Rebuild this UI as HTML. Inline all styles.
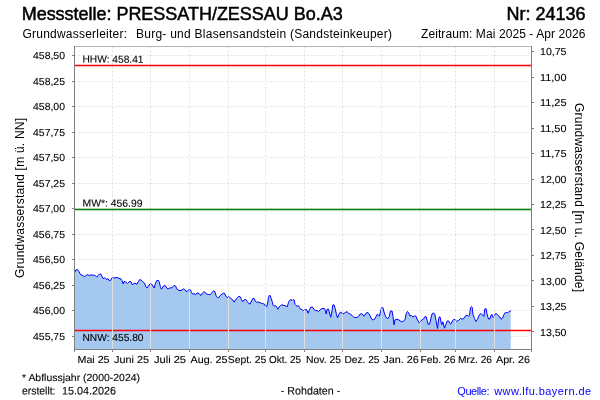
<!DOCTYPE html>
<html lang="de"><head><meta charset="utf-8"><title>Messstelle: PRESSATH/ZESSAU Bo.A3</title>
<style>html,body{margin:0;padding:0;background:#fff}svg{display:block}text{font-family:"Liberation Sans",Arial,sans-serif;fill:#000;stroke:#000;stroke-width:0}</style>
</head><body>
<svg width="600" height="400" viewBox="0 0 600 400">
<rect width="600" height="400" fill="#fff"/>
<defs><clipPath id="fc"><polygon points="75,349.5 75,271.8 75.8,270 77.5,269.5 79,271.5 80.5,274.5 82,275.2 83.5,275.8 84.8,276.8 86.5,274.8 88,274.8 89.5,275.7 91,274.7 93,275.3 94.5,275.3 95.5,275.8 96.8,277 98.2,275.5 99.5,274 101,274.2 102,276.5 103,278.5 104.5,277.8 105.8,278.5 106.8,279.8 107.8,278.5 109.2,280.5 110.5,280.5 111.7,278 113.5,277.8 115,277.8 117,277.5 119,278.3 121,279 122,280.5 123.2,284 124,281.5 125.5,281.8 127.5,283.5 129.5,281.5 131,281.8 132.5,285 134.5,283 137,284.2 138.5,281.5 139.5,279.8 141,279.8 142.5,281.5 144.5,283 145.8,286.5 147,288 148.5,286 149.8,284 151.5,284 153,286 154.2,288 155.5,283 156.8,280.5 158.5,280.5 159.5,283 160.5,287.5 161.5,289.2 162.8,287 164,285.5 165.5,285.8 166.8,288 168,289 169.5,288 172,287.8 174,285.5 175.5,286 177,289 179,290.5 181,290.5 183.5,288.8 184.8,289.5 186,291.5 187.5,291 188.8,289.8 190.2,289.5 191.5,292.5 192.5,294 194,293.5 195.5,294.8 197,293 198.5,293 200,294.8 201,295.5 202.5,293 203.8,291.8 205,292.2 206.5,294 208.5,294.5 210.5,294.5 212,292.5 213.5,290.8 214.8,291.5 216,295.5 217.5,297.5 218.5,297.8 220,295.8 222,294 223.8,293 225,294 226,296.5 227.2,297.5 229,296.5 230.5,298.2 232.5,299.5 234.2,302.2 235.5,300 237.5,297.5 239,296.2 240.2,296.8 241.5,299.5 242.7,301.8 244.5,299.5 245.8,299.5 247.2,301.5 249,303.8 250.2,304 251.5,301 252.8,298.5 254.2,298.5 255.5,301.5 256.5,302.2 258,301.8 260,302.8 262.5,303.5 264.5,304.2 265.5,306.2 266.5,306.8 267.5,304 268.5,297.5 269.2,295.5 270.2,295.5 271.2,298.5 272.2,301.5 273.2,305.5 274,306.2 275.5,305.5 276.8,307.2 277.8,309.2 279,307 280.5,305.5 282,304.8 284,305.5 286,305.8 287.2,307 288.5,302.5 289.5,300.5 291,299.5 292.2,300.5 293.2,299.5 294.2,300 295,304.5 296,305.5 297.2,306.2 298.5,305.8 299.5,307.5 300.5,309.2 302,309.5 303.5,311 304.5,309.8 306.5,309.5 308.2,313.2 309.5,309.5 310.8,307.2 312.5,307 314,309.5 315.5,310.5 317,310.5 318.5,311.5 320,310 322,308.5 324.5,308.5 325.5,310.5 326.2,314 327,309.5 328.5,309 329.5,313 330.8,317.2 331.8,312 332.8,305 334,304.8 335.2,308.5 336.5,314.5 337.5,317.8 338.8,314.5 340.2,312.2 341.5,312.5 342.8,314.2 344.5,313 347,311.5 348.5,313.5 350.5,314 352.5,316.2 354.5,317.5 357,317.5 358.8,316.2 360.2,314 361.8,313.6 364,316.2 366,313.2 368,312.5 369.8,315 371.5,319 373,320 375,318.8 376.8,314.8 378,314.5 379.5,316.2 380.5,311.5 381.5,307.8 383,307.8 384,312 385.5,316.2 387.5,318.8 389.2,316.5 390.5,311 392,310.8 393,316.5 394,324.8 395,319.8 397,319.2 399,320 401.5,321.8 403.5,321 405,319.8 406.2,313.5 407.5,311.5 408.5,312.5 410,316 411.5,315.5 413,317 414.5,315.8 416,316.2 417.5,320 419.5,323 421.2,320.5 423.5,319 425,316.5 426.2,316.8 427.2,320.5 428.2,324.5 429.5,324.2 430.8,319 432,314 433.5,312.8 434.8,314.2 436,320.5 437.5,328.5 438.5,320 439.2,316.8 440.2,317.2 441.2,323 442,324.5 442.8,321.8 443.5,324 444.5,328.2 445.8,324.5 447,321.2 448.5,320.8 450,323.5 450.8,324.2 452.5,320.8 454,319.2 455.2,320 456.5,321.2 458.5,320.5 460.5,318.5 462,319 463.5,318.8 465.5,315.8 467,315.2 468.5,316.2 469.5,315.5 470.5,307.5 471.5,306.5 472.2,307.5 473,314.5 474.5,318.5 476,321.5 477.3,319.6 479.5,314.5 481,313.5 482.5,315 483.8,316.5 484.8,309 486,308.5 487,314 488.5,319 490,319 491,315 492,314.5 493.2,317.5 494.2,316.5 495.2,313.8 496.5,313.5 498,315.5 499.8,317 501,319.2 502.5,318.2 504,314.5 505,312.8 506.5,312.5 507.8,312.8 509,311.5 510.5,311 510.7,311 510.7,349.5"/></clipPath></defs>
<g stroke="#c0c0c0" stroke-width="0.5" stroke-dasharray="2 2">
<line x1="74.5" y1="55.5" x2="531.5" y2="55.5"/>
<line x1="74.5" y1="81.5" x2="531.5" y2="81.5"/>
<line x1="74.5" y1="106.5" x2="531.5" y2="106.5"/>
<line x1="74.5" y1="132.5" x2="531.5" y2="132.5"/>
<line x1="74.5" y1="157.5" x2="531.5" y2="157.5"/>
<line x1="74.5" y1="183.5" x2="531.5" y2="183.5"/>
<line x1="74.5" y1="208.5" x2="531.5" y2="208.5"/>
<line x1="74.5" y1="234.5" x2="531.5" y2="234.5"/>
<line x1="74.5" y1="259.5" x2="531.5" y2="259.5"/>
<line x1="74.5" y1="285.5" x2="531.5" y2="285.5"/>
<line x1="74.5" y1="310.5" x2="531.5" y2="310.5"/>
<line x1="74.5" y1="336.5" x2="531.5" y2="336.5"/>
<line x1="112.5" y1="46.5" x2="112.5" y2="349.5" />
<line x1="150.5" y1="46.5" x2="150.5" y2="349.5" />
<line x1="189.5" y1="46.5" x2="189.5" y2="349.5" />
<line x1="228.5" y1="46.5" x2="228.5" y2="349.5" />
<line x1="265.5" y1="46.5" x2="265.5" y2="349.5" />
<line x1="304.5" y1="46.5" x2="304.5" y2="349.5" />
<line x1="342.5" y1="46.5" x2="342.5" y2="349.5" />
<line x1="381.5" y1="46.5" x2="381.5" y2="349.5" />
<line x1="420.5" y1="46.5" x2="420.5" y2="349.5" />
<line x1="455.5" y1="46.5" x2="455.5" y2="349.5" />
<line x1="494.5" y1="46.5" x2="494.5" y2="349.5" />
</g>
<polygon points="75,349.5 75,271.8 75.8,270 77.5,269.5 79,271.5 80.5,274.5 82,275.2 83.5,275.8 84.8,276.8 86.5,274.8 88,274.8 89.5,275.7 91,274.7 93,275.3 94.5,275.3 95.5,275.8 96.8,277 98.2,275.5 99.5,274 101,274.2 102,276.5 103,278.5 104.5,277.8 105.8,278.5 106.8,279.8 107.8,278.5 109.2,280.5 110.5,280.5 111.7,278 113.5,277.8 115,277.8 117,277.5 119,278.3 121,279 122,280.5 123.2,284 124,281.5 125.5,281.8 127.5,283.5 129.5,281.5 131,281.8 132.5,285 134.5,283 137,284.2 138.5,281.5 139.5,279.8 141,279.8 142.5,281.5 144.5,283 145.8,286.5 147,288 148.5,286 149.8,284 151.5,284 153,286 154.2,288 155.5,283 156.8,280.5 158.5,280.5 159.5,283 160.5,287.5 161.5,289.2 162.8,287 164,285.5 165.5,285.8 166.8,288 168,289 169.5,288 172,287.8 174,285.5 175.5,286 177,289 179,290.5 181,290.5 183.5,288.8 184.8,289.5 186,291.5 187.5,291 188.8,289.8 190.2,289.5 191.5,292.5 192.5,294 194,293.5 195.5,294.8 197,293 198.5,293 200,294.8 201,295.5 202.5,293 203.8,291.8 205,292.2 206.5,294 208.5,294.5 210.5,294.5 212,292.5 213.5,290.8 214.8,291.5 216,295.5 217.5,297.5 218.5,297.8 220,295.8 222,294 223.8,293 225,294 226,296.5 227.2,297.5 229,296.5 230.5,298.2 232.5,299.5 234.2,302.2 235.5,300 237.5,297.5 239,296.2 240.2,296.8 241.5,299.5 242.7,301.8 244.5,299.5 245.8,299.5 247.2,301.5 249,303.8 250.2,304 251.5,301 252.8,298.5 254.2,298.5 255.5,301.5 256.5,302.2 258,301.8 260,302.8 262.5,303.5 264.5,304.2 265.5,306.2 266.5,306.8 267.5,304 268.5,297.5 269.2,295.5 270.2,295.5 271.2,298.5 272.2,301.5 273.2,305.5 274,306.2 275.5,305.5 276.8,307.2 277.8,309.2 279,307 280.5,305.5 282,304.8 284,305.5 286,305.8 287.2,307 288.5,302.5 289.5,300.5 291,299.5 292.2,300.5 293.2,299.5 294.2,300 295,304.5 296,305.5 297.2,306.2 298.5,305.8 299.5,307.5 300.5,309.2 302,309.5 303.5,311 304.5,309.8 306.5,309.5 308.2,313.2 309.5,309.5 310.8,307.2 312.5,307 314,309.5 315.5,310.5 317,310.5 318.5,311.5 320,310 322,308.5 324.5,308.5 325.5,310.5 326.2,314 327,309.5 328.5,309 329.5,313 330.8,317.2 331.8,312 332.8,305 334,304.8 335.2,308.5 336.5,314.5 337.5,317.8 338.8,314.5 340.2,312.2 341.5,312.5 342.8,314.2 344.5,313 347,311.5 348.5,313.5 350.5,314 352.5,316.2 354.5,317.5 357,317.5 358.8,316.2 360.2,314 361.8,313.6 364,316.2 366,313.2 368,312.5 369.8,315 371.5,319 373,320 375,318.8 376.8,314.8 378,314.5 379.5,316.2 380.5,311.5 381.5,307.8 383,307.8 384,312 385.5,316.2 387.5,318.8 389.2,316.5 390.5,311 392,310.8 393,316.5 394,324.8 395,319.8 397,319.2 399,320 401.5,321.8 403.5,321 405,319.8 406.2,313.5 407.5,311.5 408.5,312.5 410,316 411.5,315.5 413,317 414.5,315.8 416,316.2 417.5,320 419.5,323 421.2,320.5 423.5,319 425,316.5 426.2,316.8 427.2,320.5 428.2,324.5 429.5,324.2 430.8,319 432,314 433.5,312.8 434.8,314.2 436,320.5 437.5,328.5 438.5,320 439.2,316.8 440.2,317.2 441.2,323 442,324.5 442.8,321.8 443.5,324 444.5,328.2 445.8,324.5 447,321.2 448.5,320.8 450,323.5 450.8,324.2 452.5,320.8 454,319.2 455.2,320 456.5,321.2 458.5,320.5 460.5,318.5 462,319 463.5,318.8 465.5,315.8 467,315.2 468.5,316.2 469.5,315.5 470.5,307.5 471.5,306.5 472.2,307.5 473,314.5 474.5,318.5 476,321.5 477.3,319.6 479.5,314.5 481,313.5 482.5,315 483.8,316.5 484.8,309 486,308.5 487,314 488.5,319 490,319 491,315 492,314.5 493.2,317.5 494.2,316.5 495.2,313.8 496.5,313.5 498,315.5 499.8,317 501,319.2 502.5,318.2 504,314.5 505,312.8 506.5,312.5 507.8,312.8 509,311.5 510.5,311 510.7,311 510.7,349.5" fill="#a5c8f0"/>
<polyline points="75,271.8 75.8,270 77.5,269.5 79,271.5 80.5,274.5 82,275.2 83.5,275.8 84.8,276.8 86.5,274.8 88,274.8 89.5,275.7 91,274.7 93,275.3 94.5,275.3 95.5,275.8 96.8,277 98.2,275.5 99.5,274 101,274.2 102,276.5 103,278.5 104.5,277.8 105.8,278.5 106.8,279.8 107.8,278.5 109.2,280.5 110.5,280.5 111.7,278 113.5,277.8 115,277.8 117,277.5 119,278.3 121,279 122,280.5 123.2,284 124,281.5 125.5,281.8 127.5,283.5 129.5,281.5 131,281.8 132.5,285 134.5,283 137,284.2 138.5,281.5 139.5,279.8 141,279.8 142.5,281.5 144.5,283 145.8,286.5 147,288 148.5,286 149.8,284 151.5,284 153,286 154.2,288 155.5,283 156.8,280.5 158.5,280.5 159.5,283 160.5,287.5 161.5,289.2 162.8,287 164,285.5 165.5,285.8 166.8,288 168,289 169.5,288 172,287.8 174,285.5 175.5,286 177,289 179,290.5 181,290.5 183.5,288.8 184.8,289.5 186,291.5 187.5,291 188.8,289.8 190.2,289.5 191.5,292.5 192.5,294 194,293.5 195.5,294.8 197,293 198.5,293 200,294.8 201,295.5 202.5,293 203.8,291.8 205,292.2 206.5,294 208.5,294.5 210.5,294.5 212,292.5 213.5,290.8 214.8,291.5 216,295.5 217.5,297.5 218.5,297.8 220,295.8 222,294 223.8,293 225,294 226,296.5 227.2,297.5 229,296.5 230.5,298.2 232.5,299.5 234.2,302.2 235.5,300 237.5,297.5 239,296.2 240.2,296.8 241.5,299.5 242.7,301.8 244.5,299.5 245.8,299.5 247.2,301.5 249,303.8 250.2,304 251.5,301 252.8,298.5 254.2,298.5 255.5,301.5 256.5,302.2 258,301.8 260,302.8 262.5,303.5 264.5,304.2 265.5,306.2 266.5,306.8 267.5,304 268.5,297.5 269.2,295.5 270.2,295.5 271.2,298.5 272.2,301.5 273.2,305.5 274,306.2 275.5,305.5 276.8,307.2 277.8,309.2 279,307 280.5,305.5 282,304.8 284,305.5 286,305.8 287.2,307 288.5,302.5 289.5,300.5 291,299.5 292.2,300.5 293.2,299.5 294.2,300 295,304.5 296,305.5 297.2,306.2 298.5,305.8 299.5,307.5 300.5,309.2 302,309.5 303.5,311 304.5,309.8 306.5,309.5 308.2,313.2 309.5,309.5 310.8,307.2 312.5,307 314,309.5 315.5,310.5 317,310.5 318.5,311.5 320,310 322,308.5 324.5,308.5 325.5,310.5 326.2,314 327,309.5 328.5,309 329.5,313 330.8,317.2 331.8,312 332.8,305 334,304.8 335.2,308.5 336.5,314.5 337.5,317.8 338.8,314.5 340.2,312.2 341.5,312.5 342.8,314.2 344.5,313 347,311.5 348.5,313.5 350.5,314 352.5,316.2 354.5,317.5 357,317.5 358.8,316.2 360.2,314 361.8,313.6 364,316.2 366,313.2 368,312.5 369.8,315 371.5,319 373,320 375,318.8 376.8,314.8 378,314.5 379.5,316.2 380.5,311.5 381.5,307.8 383,307.8 384,312 385.5,316.2 387.5,318.8 389.2,316.5 390.5,311 392,310.8 393,316.5 394,324.8 395,319.8 397,319.2 399,320 401.5,321.8 403.5,321 405,319.8 406.2,313.5 407.5,311.5 408.5,312.5 410,316 411.5,315.5 413,317 414.5,315.8 416,316.2 417.5,320 419.5,323 421.2,320.5 423.5,319 425,316.5 426.2,316.8 427.2,320.5 428.2,324.5 429.5,324.2 430.8,319 432,314 433.5,312.8 434.8,314.2 436,320.5 437.5,328.5 438.5,320 439.2,316.8 440.2,317.2 441.2,323 442,324.5 442.8,321.8 443.5,324 444.5,328.2 445.8,324.5 447,321.2 448.5,320.8 450,323.5 450.8,324.2 452.5,320.8 454,319.2 455.2,320 456.5,321.2 458.5,320.5 460.5,318.5 462,319 463.5,318.8 465.5,315.8 467,315.2 468.5,316.2 469.5,315.5 470.5,307.5 471.5,306.5 472.2,307.5 473,314.5 474.5,318.5 476,321.5 477.3,319.6 479.5,314.5 481,313.5 482.5,315 483.8,316.5 484.8,309 486,308.5 487,314 488.5,319 490,319 491,315 492,314.5 493.2,317.5 494.2,316.5 495.2,313.8 496.5,313.5 498,315.5 499.8,317 501,319.2 502.5,318.2 504,314.5 505,312.8 506.5,312.5 507.8,312.8 509,311.5 510.5,311" fill="none" stroke="#0000ff" stroke-width="1" stroke-linejoin="round" stroke-linecap="round"/>
<g stroke-width="1.5">
<line x1="75" y1="65.5" x2="531" y2="65.5" stroke="#ff0000"/>
<line x1="75" y1="209.5" x2="531" y2="209.5" stroke="#008000"/>
<line x1="75" y1="330.5" x2="531" y2="330.5" stroke="#ff0000"/>
</g>
<g clip-path="url(#fc)" stroke="#dedede" stroke-width="1" shape-rendering="crispEdges">
<line x1="112.5" y1="349" x2="112.5" y2="250"/>
<line x1="150.5" y1="349" x2="150.5" y2="250"/>
<line x1="189.5" y1="349" x2="189.5" y2="250"/>
<line x1="228.5" y1="349" x2="228.5" y2="250"/>
<line x1="265.5" y1="349" x2="265.5" y2="250"/>
<line x1="304.5" y1="349" x2="304.5" y2="250"/>
<line x1="342.5" y1="349" x2="342.5" y2="250"/>
<line x1="381.5" y1="349" x2="381.5" y2="250"/>
<line x1="420.5" y1="349" x2="420.5" y2="250"/>
<line x1="455.5" y1="349" x2="455.5" y2="250"/>
<line x1="494.5" y1="349" x2="494.5" y2="250"/>
</g>
<g shape-rendering="crispEdges" stroke-width="1">
<line x1="75" y1="46.5" x2="531" y2="46.5" stroke="#b4b4b4"/>
<line x1="74.5" y1="46" x2="74.5" y2="350" stroke="#808080"/>
<line x1="531.5" y1="46" x2="531.5" y2="350" stroke="#808080"/>
<line x1="74" y1="349.5" x2="532" y2="349.5" stroke="#808080"/>
<line x1="72" y1="55.5" x2="74" y2="55.5" stroke="#808080"/>
<line x1="72" y1="81.5" x2="74" y2="81.5" stroke="#808080"/>
<line x1="72" y1="106.5" x2="74" y2="106.5" stroke="#808080"/>
<line x1="72" y1="132.5" x2="74" y2="132.5" stroke="#808080"/>
<line x1="72" y1="157.5" x2="74" y2="157.5" stroke="#808080"/>
<line x1="72" y1="183.5" x2="74" y2="183.5" stroke="#808080"/>
<line x1="72" y1="208.5" x2="74" y2="208.5" stroke="#808080"/>
<line x1="72" y1="234.5" x2="74" y2="234.5" stroke="#808080"/>
<line x1="72" y1="259.5" x2="74" y2="259.5" stroke="#808080"/>
<line x1="72" y1="285.5" x2="74" y2="285.5" stroke="#808080"/>
<line x1="72" y1="310.5" x2="74" y2="310.5" stroke="#808080"/>
<line x1="72" y1="336.5" x2="74" y2="336.5" stroke="#808080"/>
<line x1="532" y1="51.5" x2="534" y2="51.5" stroke="#808080"/>
<line x1="532" y1="77.5" x2="534" y2="77.5" stroke="#808080"/>
<line x1="532" y1="102.5" x2="534" y2="102.5" stroke="#808080"/>
<line x1="532" y1="128.5" x2="534" y2="128.5" stroke="#808080"/>
<line x1="532" y1="153.5" x2="534" y2="153.5" stroke="#808080"/>
<line x1="532" y1="179.5" x2="534" y2="179.5" stroke="#808080"/>
<line x1="532" y1="204.5" x2="534" y2="204.5" stroke="#808080"/>
<line x1="532" y1="229.5" x2="534" y2="229.5" stroke="#808080"/>
<line x1="532" y1="255.5" x2="534" y2="255.5" stroke="#808080"/>
<line x1="532" y1="280.5" x2="534" y2="280.5" stroke="#808080"/>
<line x1="532" y1="306.5" x2="534" y2="306.5" stroke="#808080"/>
<line x1="532" y1="331.5" x2="534" y2="331.5" stroke="#808080"/>
<line x1="74.5" y1="350" x2="74.5" y2="352" stroke="#808080"/>
<line x1="112.5" y1="350" x2="112.5" y2="352" stroke="#808080"/>
<line x1="150.5" y1="350" x2="150.5" y2="352" stroke="#808080"/>
<line x1="189.5" y1="350" x2="189.5" y2="352" stroke="#808080"/>
<line x1="228.5" y1="350" x2="228.5" y2="352" stroke="#808080"/>
<line x1="265.5" y1="350" x2="265.5" y2="352" stroke="#808080"/>
<line x1="304.5" y1="350" x2="304.5" y2="352" stroke="#808080"/>
<line x1="342.5" y1="350" x2="342.5" y2="352" stroke="#808080"/>
<line x1="381.5" y1="350" x2="381.5" y2="352" stroke="#808080"/>
<line x1="420.5" y1="350" x2="420.5" y2="352" stroke="#808080"/>
<line x1="455.5" y1="350" x2="455.5" y2="352" stroke="#808080"/>
<line x1="494.5" y1="350" x2="494.5" y2="352" stroke="#808080"/>
<line x1="531.5" y1="350" x2="531.5" y2="352" stroke="#808080"/>
</g>
<text transform="translate(33,59) rotate(0.05)" font-size="10.2" text-anchor="start" textLength="32" lengthAdjust="spacingAndGlyphs" style="stroke-width:0.1px">458,50</text>
<text transform="translate(33,85) rotate(0.05)" font-size="10.2" text-anchor="start" textLength="32" lengthAdjust="spacingAndGlyphs" style="stroke-width:0.1px">458,25</text>
<text transform="translate(33,110) rotate(0.05)" font-size="10.2" text-anchor="start" textLength="32" lengthAdjust="spacingAndGlyphs" style="stroke-width:0.1px">458,00</text>
<text transform="translate(33,136) rotate(0.05)" font-size="10.2" text-anchor="start" textLength="32" lengthAdjust="spacingAndGlyphs" style="stroke-width:0.1px">457,75</text>
<text transform="translate(33,161) rotate(0.05)" font-size="10.2" text-anchor="start" textLength="32" lengthAdjust="spacingAndGlyphs" style="stroke-width:0.1px">457,50</text>
<text transform="translate(33,187) rotate(0.05)" font-size="10.2" text-anchor="start" textLength="32" lengthAdjust="spacingAndGlyphs" style="stroke-width:0.1px">457,25</text>
<text transform="translate(33,212) rotate(0.05)" font-size="10.2" text-anchor="start" textLength="32" lengthAdjust="spacingAndGlyphs" style="stroke-width:0.1px">457,00</text>
<text transform="translate(33,238) rotate(0.05)" font-size="10.2" text-anchor="start" textLength="32" lengthAdjust="spacingAndGlyphs" style="stroke-width:0.1px">456,75</text>
<text transform="translate(33,263) rotate(0.05)" font-size="10.2" text-anchor="start" textLength="32" lengthAdjust="spacingAndGlyphs" style="stroke-width:0.1px">456,50</text>
<text transform="translate(33,289) rotate(0.05)" font-size="10.2" text-anchor="start" textLength="32" lengthAdjust="spacingAndGlyphs" style="stroke-width:0.1px">456,25</text>
<text transform="translate(33,314) rotate(0.05)" font-size="10.2" text-anchor="start" textLength="32" lengthAdjust="spacingAndGlyphs" style="stroke-width:0.1px">456,00</text>
<text transform="translate(33,340) rotate(0.05)" font-size="10.2" text-anchor="start" textLength="32" lengthAdjust="spacingAndGlyphs" style="stroke-width:0.1px">455,75</text>
<text transform="translate(540,55) rotate(0.05)" font-size="10.2" text-anchor="start" textLength="26.5" lengthAdjust="spacingAndGlyphs" style="stroke-width:0.1px">10,75</text>
<text transform="translate(540,81) rotate(0.05)" font-size="10.2" text-anchor="start" textLength="26.5" lengthAdjust="spacingAndGlyphs" style="stroke-width:0.1px">11,00</text>
<text transform="translate(540,106) rotate(0.05)" font-size="10.2" text-anchor="start" textLength="26.5" lengthAdjust="spacingAndGlyphs" style="stroke-width:0.1px">11,25</text>
<text transform="translate(540,132) rotate(0.05)" font-size="10.2" text-anchor="start" textLength="26.5" lengthAdjust="spacingAndGlyphs" style="stroke-width:0.1px">11,50</text>
<text transform="translate(540,157) rotate(0.05)" font-size="10.2" text-anchor="start" textLength="26.5" lengthAdjust="spacingAndGlyphs" style="stroke-width:0.1px">11,75</text>
<text transform="translate(540,183) rotate(0.05)" font-size="10.2" text-anchor="start" textLength="26.5" lengthAdjust="spacingAndGlyphs" style="stroke-width:0.1px">12,00</text>
<text transform="translate(540,208) rotate(0.05)" font-size="10.2" text-anchor="start" textLength="26.5" lengthAdjust="spacingAndGlyphs" style="stroke-width:0.1px">12,25</text>
<text transform="translate(540,234) rotate(0.05)" font-size="10.2" text-anchor="start" textLength="26.5" lengthAdjust="spacingAndGlyphs" style="stroke-width:0.1px">12,50</text>
<text transform="translate(540,259) rotate(0.05)" font-size="10.2" text-anchor="start" textLength="26.5" lengthAdjust="spacingAndGlyphs" style="stroke-width:0.1px">12,75</text>
<text transform="translate(540,285) rotate(0.05)" font-size="10.2" text-anchor="start" textLength="26.5" lengthAdjust="spacingAndGlyphs" style="stroke-width:0.1px">13,00</text>
<text transform="translate(540,310) rotate(0.05)" font-size="10.2" text-anchor="start" textLength="26.5" lengthAdjust="spacingAndGlyphs" style="stroke-width:0.1px">13,25</text>
<text transform="translate(540,336) rotate(0.05)" font-size="10.2" text-anchor="start" textLength="26.5" lengthAdjust="spacingAndGlyphs" style="stroke-width:0.1px">13,50</text>
<text transform="translate(77.5,363) rotate(0.05)" font-size="10.2" text-anchor="start" textLength="32" lengthAdjust="spacingAndGlyphs" style="stroke-width:0.1px">Mai 25</text>
<text transform="translate(114.0,363) rotate(0.05)" font-size="10.2" text-anchor="start" textLength="35" lengthAdjust="spacingAndGlyphs" style="stroke-width:0.1px">Juni 25</text>
<text transform="translate(154.0,363) rotate(0.05)" font-size="10.2" text-anchor="start" textLength="32" lengthAdjust="spacingAndGlyphs" style="stroke-width:0.1px">Juli 25</text>
<text transform="translate(190.5,363) rotate(0.05)" font-size="10.2" text-anchor="start" textLength="37" lengthAdjust="spacingAndGlyphs" style="stroke-width:0.1px">Aug. 25</text>
<text transform="translate(227.75,363) rotate(0.05)" font-size="10.2" text-anchor="start" textLength="38.5" lengthAdjust="spacingAndGlyphs" style="stroke-width:0.1px">Sept. 25</text>
<text transform="translate(269.0,363) rotate(0.05)" font-size="10.2" text-anchor="start" textLength="32" lengthAdjust="spacingAndGlyphs" style="stroke-width:0.1px">Okt. 25</text>
<text transform="translate(306.0,363) rotate(0.05)" font-size="10.2" text-anchor="start" textLength="35" lengthAdjust="spacingAndGlyphs" style="stroke-width:0.1px">Nov. 25</text>
<text transform="translate(344.5,363) rotate(0.05)" font-size="10.2" text-anchor="start" textLength="35" lengthAdjust="spacingAndGlyphs" style="stroke-width:0.1px">Dez. 25</text>
<text transform="translate(383.25,363) rotate(0.05)" font-size="10.2" text-anchor="start" textLength="35.5" lengthAdjust="spacingAndGlyphs" style="stroke-width:0.1px">Jan. 26</text>
<text transform="translate(420.5,363) rotate(0.05)" font-size="10.2" text-anchor="start" textLength="35" lengthAdjust="spacingAndGlyphs" style="stroke-width:0.1px">Feb. 26</text>
<text transform="translate(458.0,363) rotate(0.05)" font-size="10.2" text-anchor="start" textLength="34" lengthAdjust="spacingAndGlyphs" style="stroke-width:0.1px">Mrz. 26</text>
<text transform="translate(496.0,363) rotate(0.05)" font-size="10.2" text-anchor="start" textLength="34" lengthAdjust="spacingAndGlyphs" style="stroke-width:0.1px">Apr. 26</text>
<text transform="translate(82.5,62.6) rotate(0.05)" font-size="10.2" text-anchor="start" textLength="61" lengthAdjust="spacingAndGlyphs" style="stroke-width:0.1px">HHW: 458.41</text>
<text transform="translate(82.5,206.6) rotate(0.05)" font-size="10.2" text-anchor="start" textLength="60" lengthAdjust="spacingAndGlyphs" style="stroke-width:0.1px">MW*: 456.99</text>
<text transform="translate(82.5,341) rotate(0.05)" font-size="10.2" text-anchor="start" textLength="61" lengthAdjust="spacingAndGlyphs" style="stroke-width:0.1px">NNW: 455.80</text>
<text x="21.7" y="20" font-size="18" text-anchor="start" textLength="321" lengthAdjust="spacing" style="stroke-width:0.5px">Messstelle: PRESSATH/ZESSAU Bo.A3</text>
<text x="585.5" y="20" font-size="18" text-anchor="end" style="stroke-width:0.5px">Nr: 24136</text>
<text x="22.5" y="37.5" font-size="12" text-anchor="start" textLength="104.5" lengthAdjust="spacing">Grundwasserleiter:</text>
<text x="136" y="37.5" font-size="12" text-anchor="start" textLength="256" lengthAdjust="spacing">Burg- und Blasensandstein (Sandsteinkeuper)</text>
<text x="421" y="37.5" font-size="12" text-anchor="start" textLength="164.5" lengthAdjust="spacing">Zeitraum: Mai 2025 - Apr 2026</text>
<text transform="translate(23.5,198) rotate(-90)" font-size="12" text-anchor="middle" textLength="160" lengthAdjust="spacing">Grundwasserstand [m ü. NN]</text>
<text transform="translate(575,197.5) rotate(90)" font-size="12" text-anchor="middle" textLength="189" lengthAdjust="spacing">Grundwasserstand [m u. Gelände]</text>
<text transform="translate(22,381) rotate(0.05)" font-size="10.2" text-anchor="start" textLength="118" lengthAdjust="spacingAndGlyphs" style="stroke-width:0.1px">* Abflussjahr (2000-2024)</text>
<text transform="translate(22,394.5) rotate(0.05)" font-size="11" text-anchor="start" textLength="33.5" lengthAdjust="spacingAndGlyphs" style="stroke-width:0.1px">erstellt:</text>
<text transform="translate(62,394.5) rotate(0.05)" font-size="11" text-anchor="start" textLength="54" lengthAdjust="spacingAndGlyphs" style="stroke-width:0.1px">15.04.2026</text>
<text transform="translate(280.7,394.5) rotate(0.05)" font-size="11" text-anchor="start" textLength="59.6" lengthAdjust="spacingAndGlyphs" style="stroke-width:0.1px">- Rohdaten -</text>
<text x="457.3" y="394.5" font-size="11" textLength="32.3" lengthAdjust="spacing" style="fill:#0000ff;stroke:none">Quelle:</text>
<text x="494.2" y="394.5" font-size="11" textLength="97" lengthAdjust="spacing" style="fill:#0000ff;stroke:none">www.lfu.bayern.de</text>
</svg></body></html>
